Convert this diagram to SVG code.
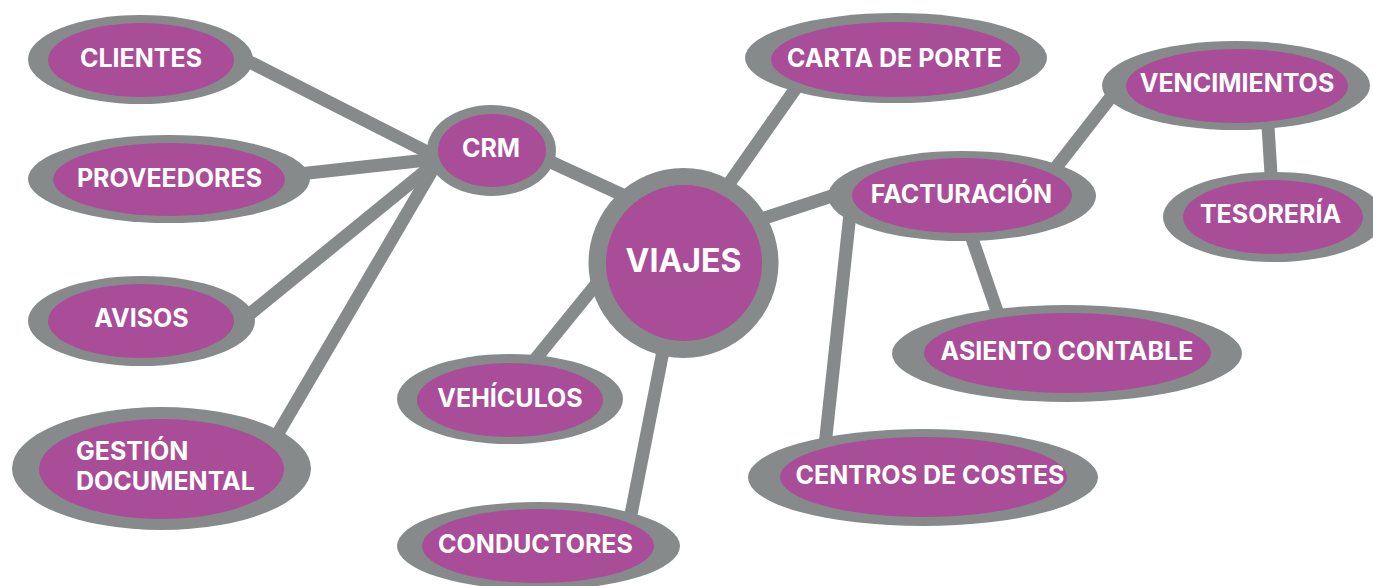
<svg xmlns="http://www.w3.org/2000/svg" width="1373" height="586" viewBox="0 0 1373 586">
<style>
.o{fill:#878a8a}
.i{fill:#a94d99}
.t{fill:#ffffff;font-family:Inter,"Liberation Sans",sans-serif;font-weight:700;font-size:25px;text-anchor:middle}
.c line{stroke:#878a8a;stroke-width:13;stroke-linecap:butt}
</style>
<rect width="1373" height="586" fill="#ffffff"/>
<g id="connectors" class="c">
<line x1="232" y1="53" x2="445" y2="161"/>
<line x1="290" y1="175" x2="445" y2="158"/>
<line x1="240" y1="322" x2="445" y2="155"/>
<line x1="270" y1="447" x2="440" y2="157"/>
<line x1="540" y1="157" x2="640" y2="203"/>
<line x1="810" y1="68" x2="700" y2="225"/>
<line x1="740" y1="226" x2="850" y2="190"/>
<line x1="620" y1="255" x2="520" y2="378"/>
<line x1="675" y1="290" x2="625" y2="545"/>
<line x1="1040" y1="188" x2="1125" y2="79"/>
<line x1="1267" y1="110" x2="1272" y2="190"/>
<line x1="965" y1="218" x2="1000" y2="320"/>
<line x1="852" y1="195" x2="824" y2="455"/>
</g>
<g id="clientes">
<ellipse class="o" cx="140.5" cy="59.5" rx="112.5" ry="44.5"/>
<ellipse class="i" cx="141" cy="60" rx="93" ry="37"/>
<text class="t" x="141" y="67">CLIENTES</text>
</g>
<g id="proveedores">
<ellipse class="o" cx="169" cy="179" rx="141" ry="44"/>
<ellipse class="i" cx="169" cy="179.5" rx="116" ry="36.5"/>
<text class="t" x="169.5" y="187">PROVEEDORES</text>
</g>
<g id="avisos">
<ellipse class="o" cx="141.5" cy="321" rx="113.5" ry="45"/>
<ellipse class="i" cx="141" cy="321" rx="93" ry="37"/>
<text class="t" x="141.5" y="327">AVISOS</text>
</g>
<g id="gestion">
<ellipse class="o" cx="161.5" cy="468.5" rx="149.5" ry="61.5"/>
<ellipse class="i" cx="161.5" cy="469" rx="122.5" ry="50"/>
<text class="t" x="76" y="460" style="text-anchor:start">GESTIÓN</text>
<text class="t" x="76" y="490" style="text-anchor:start">DOCUMENTAL</text>
</g>
<g id="crm">
<ellipse class="o" cx="491.5" cy="150.5" rx="64.5" ry="45.5"/>
<ellipse class="i" cx="492" cy="150.5" rx="54" ry="36.5"/>
<text class="t" x="491" y="157">CRM</text>
</g>
<g id="viajes">
<circle class="o" cx="683.5" cy="263" r="95"/>
<circle class="i" cx="684" cy="263" r="78"/>
<text class="t" x="683.5" y="272" style="font-size:32px">VIAJES</text>
</g>
<g id="vehiculos">
<ellipse class="o" cx="510" cy="399" rx="113" ry="45"/>
<ellipse class="i" cx="510" cy="400" rx="93" ry="37"/>
<text class="t" x="510" y="407">VEHÍCULOS</text>
</g>
<g id="conductores">
<ellipse class="o" cx="538.5" cy="546" rx="141.5" ry="44"/>
<ellipse class="i" cx="538" cy="546" rx="116" ry="37"/>
<text class="t" x="535.5" y="553">CONDUCTORES</text>
</g>
<g id="carta">
<ellipse class="o" cx="896" cy="58" rx="151" ry="45"/>
<ellipse class="i" cx="895.5" cy="59.5" rx="124.5" ry="37.5"/>
<text class="t" x="894.5" y="67">CARTA DE PORTE</text>
</g>
<g id="facturacion">
<ellipse class="o" cx="962" cy="196" rx="134" ry="45"/>
<ellipse class="i" cx="962" cy="195.5" rx="110" ry="37.5"/>
<text class="t" x="961.5" y="203">FACTURACIÓN</text>
</g>
<g id="vencimientos">
<ellipse class="o" cx="1236" cy="85.5" rx="134" ry="44.5"/>
<ellipse class="i" cx="1237" cy="86" rx="111" ry="37"/>
<text class="t" x="1237" y="92">VENCIMIENTOS</text>
</g>
<g id="tesoreria">
<ellipse class="o" cx="1274" cy="217" rx="111" ry="45"/>
<ellipse class="i" cx="1273" cy="217" rx="90" ry="37"/>
<text class="t" x="1270.5" y="223">TESORERÍA</text>
</g>
<g id="asiento">
<ellipse class="o" cx="1067" cy="353.5" rx="175" ry="48.5"/>
<ellipse class="i" cx="1067.5" cy="353" rx="143.5" ry="40"/>
<text class="t" x="1067" y="360">ASIENTO CONTABLE</text>
</g>
<g id="centros">
<ellipse class="o" cx="923" cy="477.5" rx="175" ry="48.5"/>
<ellipse class="i" cx="923.5" cy="477" rx="143.5" ry="40"/>
<text class="t" x="930" y="484">CENTROS DE COSTES</text>
</g>
</svg>
